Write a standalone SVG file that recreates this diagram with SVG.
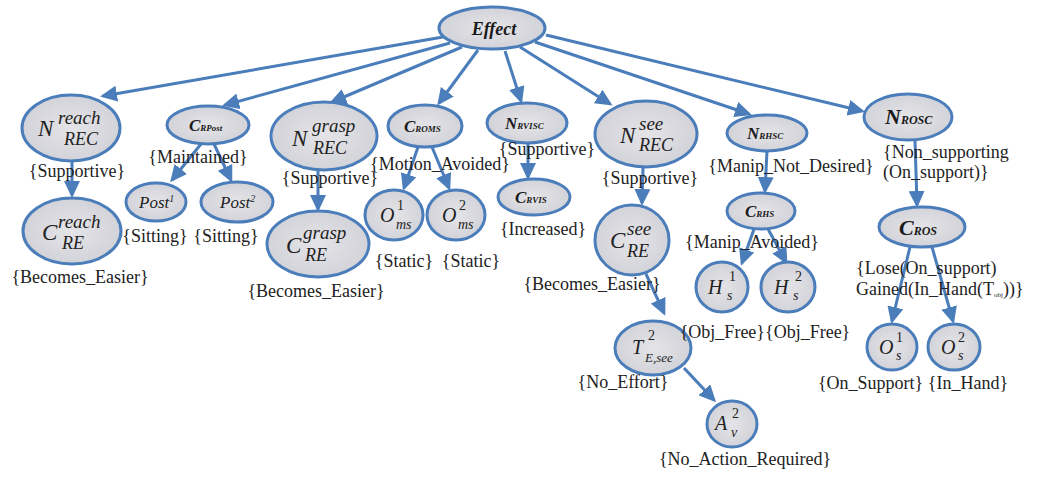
<svg xmlns="http://www.w3.org/2000/svg" width="1037" height="478" viewBox="0 0 1037 478">
<style>
.n{fill:url(#g);stroke:#4a7dba;stroke-width:3}
.e{stroke:#4a7dba;stroke-width:3;fill:none;marker-end:url(#ah)}
.t{font-family:"Liberation Serif",serif;fill:#222}
.l{font-family:"Liberation Serif",serif;font-size:18px;fill:#222}
.m{font-family:"Liberation Serif",serif;font-style:italic;fill:#222}
.b{font-family:"Liberation Serif",serif;font-style:italic;font-weight:bold;fill:#1a1a1a}
</style>
<defs>
<radialGradient id="g" cx="0.5" cy="0.5" r="0.6">
<stop offset="0" stop-color="#e4e4e8"/>
<stop offset="1" stop-color="#cfd0d6"/>
</radialGradient>
<marker id="ah" markerUnits="userSpaceOnUse" markerWidth="18" markerHeight="16" refX="14" refY="8" orient="auto">
<path d="M0,0 L17,8 L0,16 Z" fill="#4a7dba"/>
</marker>
</defs>
<rect width="1037" height="478" fill="#ffffff"/>
<g id="connectors">
<line class="e" x1="443" y1="37" x2="103" y2="96"/>
<line class="e" x1="450" y1="43" x2="225" y2="105"/>
<line class="e" x1="462" y1="47" x2="332" y2="102"/>
<line class="e" x1="478" y1="50" x2="439" y2="103"/>
<line class="e" x1="505" y1="51" x2="521" y2="101"/>
<line class="e" x1="520" y1="47" x2="610" y2="104"/>
<line class="e" x1="535" y1="42" x2="749" y2="114"/>
<line class="e" x1="546" y1="35" x2="862" y2="111"/>
<line class="e" x1="72" y1="161" x2="72" y2="195"/>
<line class="e" x1="201" y1="144" x2="172" y2="180"/>
<line class="e" x1="214" y1="144" x2="231" y2="180"/>
<line class="e" x1="318" y1="170" x2="318" y2="209"/>
<line class="e" x1="418" y1="147" x2="404" y2="188"/>
<line class="e" x1="432" y1="147" x2="449" y2="188"/>
<line class="e" x1="528" y1="143" x2="528" y2="177"/>
<line class="e" x1="643" y1="168" x2="642" y2="203"/>
<line class="e" x1="646" y1="274" x2="664" y2="313"/>
<line class="e" x1="684" y1="368" x2="714" y2="400"/>
<line class="e" x1="767" y1="151" x2="765" y2="191"/>
<line class="e" x1="754" y1="229" x2="742" y2="263"/>
<line class="e" x1="768" y1="229" x2="786" y2="262"/>
<line class="e" x1="915" y1="140" x2="917" y2="205"/>
<line class="e" x1="910" y1="247" x2="892" y2="321"/>
<line class="e" x1="932" y1="247" x2="953" y2="321"/>
</g>
<g id="effect"><ellipse class="n" cx="492" cy="28" rx="53" ry="21"/><text class="b" x="494" y="35" font-size="18" text-anchor="middle">Effect</text></g>
<g id="n-reach"><ellipse class="n" cx="71" cy="128" rx="49" ry="33"/>
<text class="m" x="38" y="136" font-size="23">N</text><text class="m" x="58" y="124" font-size="19">reach</text><text class="m" x="64" y="145" font-size="18">REC</text></g>
<g id="c-reach"><ellipse class="n" cx="72" cy="231" rx="49" ry="33"/>
<text class="m" x="42" y="240" font-size="23">C</text><text class="m" x="58" y="228" font-size="19">reach</text><text class="m" x="62" y="249" font-size="18">RE</text></g>
<g id="c-rpost"><ellipse class="n" cx="208" cy="125" rx="41" ry="19"/>
<text class="b" x="189" y="131" font-size="17">C<tspan font-size="9">RPost</tspan></text></g>
<g id="post1"><ellipse class="n" cx="156" cy="202" rx="30" ry="19"/>
<text class="m" x="139" y="208" font-size="17">Post<tspan font-size="10" dy="-6">1</tspan></text></g>
<g id="post2"><ellipse class="n" cx="237" cy="202" rx="36" ry="20"/>
<text class="m" x="220" y="208" font-size="17">Post<tspan font-size="10" dy="-6">2</tspan></text></g>
<g id="n-grasp"><ellipse class="n" cx="324" cy="136" rx="53" ry="34"/>
<text class="m" x="292" y="146" font-size="23">N</text><text class="m" x="312" y="132" font-size="19">grasp</text><text class="m" x="313" y="154" font-size="18">REC</text></g>
<g id="c-grasp"><ellipse class="n" cx="318" cy="244" rx="51" ry="33"/>
<text class="m" x="286" y="253" font-size="23">C</text><text class="m" x="303" y="239" font-size="19">grasp</text><text class="m" x="305" y="261" font-size="18">RE</text></g>
<g id="c-roms"><ellipse class="n" cx="425" cy="126" rx="37" ry="21"/>
<text class="b" x="404" y="132" font-size="17">C<tspan font-size="9">ROMS</tspan></text></g>
<g id="o-ms1"><ellipse class="n" cx="394" cy="215" rx="29" ry="25"/>
<text class="m" x="380" y="222" font-size="20">O</text><text class="t" x="397" y="210" font-size="14">1</text><text class="m" x="396" y="229" font-size="14">ms</text></g>
<g id="o-ms2"><ellipse class="n" cx="456" cy="215" rx="29" ry="25"/>
<text class="m" x="442" y="222" font-size="20">O</text><text class="t" x="459" y="210" font-size="14">2</text><text class="m" x="458" y="229" font-size="14">ms</text></g>
<g id="n-rvisc"><ellipse class="n" cx="527" cy="123" rx="40" ry="20"/>
<text class="b" x="505" y="129" font-size="17">N<tspan font-size="9">RVISC</tspan></text></g>
<g id="c-rvis"><ellipse class="n" cx="534" cy="197" rx="36" ry="18"/>
<text class="b" x="515" y="203" font-size="17">C<tspan font-size="9">RVIS</tspan></text></g>
<g id="n-see"><ellipse class="n" cx="646" cy="134" rx="51" ry="33"/>
<text class="m" x="620" y="143" font-size="23">N</text><text class="m" x="639" y="130" font-size="19">see</text><text class="m" x="639" y="151" font-size="18">REC</text></g>
<g id="c-see"><ellipse class="n" cx="632" cy="240" rx="37" ry="35"/>
<text class="m" x="610" y="248" font-size="23">C</text><text class="m" x="627" y="235" font-size="19">see</text><text class="m" x="627" y="257" font-size="18">RE</text></g>
<g id="t-see"><ellipse class="n" cx="653" cy="348" rx="38" ry="27"/>
<text class="m" x="632" y="354" font-size="20">T</text><text class="t" x="648" y="340" font-size="14">2</text><text class="m" x="645" y="362" font-size="13">E,see</text></g>
<g id="a-v"><ellipse class="n" cx="732" cy="424" rx="25" ry="23"/>
<text class="m" x="715" y="430" font-size="20">A</text><text class="t" x="732" y="418" font-size="14">2</text><text class="m" x="731" y="437" font-size="14">v</text></g>
<g id="n-rhsc"><ellipse class="n" cx="767" cy="133" rx="40" ry="18"/>
<text class="b" x="747" y="139" font-size="17">N<tspan font-size="9">RHSC</tspan></text></g>
<g id="c-rhs"><ellipse class="n" cx="761" cy="211" rx="34" ry="18"/>
<text class="b" x="745" y="217" font-size="17">C<tspan font-size="9">RHS</tspan></text></g>
<g id="h-s1"><ellipse class="n" cx="722" cy="287" rx="26" ry="25"/>
<text class="m" x="708" y="294" font-size="20">H</text><text class="t" x="729" y="281" font-size="14">1</text><text class="m" x="727" y="300" font-size="14">s</text></g>
<g id="h-s2"><ellipse class="n" cx="788" cy="287" rx="27" ry="25"/>
<text class="m" x="774" y="294" font-size="20">H</text><text class="t" x="795" y="281" font-size="14">2</text><text class="m" x="793" y="300" font-size="14">s</text></g>
<g id="n-rosc"><ellipse class="n" cx="908" cy="117" rx="44" ry="23"/>
<text class="b" x="885" y="124" font-size="22">N<tspan font-size="12">ROSC</tspan></text></g>
<g id="c-ros"><ellipse class="n" cx="922" cy="227" rx="43" ry="20"/>
<text class="b" x="899" y="235" font-size="22">C<tspan font-size="12">ROS</tspan></text></g>
<g id="o-s1"><ellipse class="n" cx="892" cy="347" rx="25" ry="23"/>
<text class="m" x="879" y="354" font-size="20">O</text><text class="t" x="896" y="342" font-size="14">1</text><text class="m" x="896" y="360" font-size="14">s</text></g>
<g id="o-s2"><ellipse class="n" cx="954" cy="347" rx="26" ry="23"/>
<text class="m" x="941" y="354" font-size="20">O</text><text class="t" x="958" y="342" font-size="14">2</text><text class="m" x="958" y="360" font-size="14">s</text></g>
<g id="labels">
<text class="l" x="77" y="177" text-anchor="middle">{Supportive}</text>
<text class="l" x="80" y="283" text-anchor="middle">{Becomes_Easier}</text>
<text class="l" x="198" y="163" text-anchor="middle">{Maintained}</text>
<text class="l" x="155" y="242" text-anchor="middle">{Sitting}</text>
<text class="l" x="226" y="242" text-anchor="middle">{Sitting}</text>
<text class="l" x="330" y="184" text-anchor="middle">{Supportive}</text>
<text class="l" x="316" y="297" text-anchor="middle">{Becomes_Easier}</text>
<text class="l" x="440" y="170" text-anchor="middle" font-size="15">{Motion_Avoided}</text>
<text class="l" x="404" y="267" text-anchor="middle">{Static}</text>
<text class="l" x="471" y="267" text-anchor="middle">{Static}</text>
<text class="l" x="547" y="155" text-anchor="middle">{Supportive}</text>
<text class="l" x="543" y="235" text-anchor="middle">{Increased}</text>
<text class="l" x="650" y="184" text-anchor="middle">{Supportive}</text>
<text class="l" x="592" y="290" text-anchor="middle">{Becomes_Easier}</text>
<text class="l" x="623" y="388" text-anchor="middle">{No_Effort}</text>
<text class="l" x="745" y="465" text-anchor="middle">{No_Action_Required}</text>
<text class="l" x="791" y="172" text-anchor="middle">{Manip_Not_Desired}</text>
<text class="l" x="752" y="248" text-anchor="middle">{Manip_Avoided}</text>
<text class="l" x="765" y="338" text-anchor="middle">{Obj_Free}{Obj_Free}</text>
<text class="l" x="883" y="158">{Non_supporting</text>
<text class="l" x="883" y="178">(On_support)}</text>
<text class="l" x="856" y="274">{Lose(On_support)</text>
<text class="l" x="856" y="295">Gained(In_Hand(T<tspan font-size="7" dy="2">obj</tspan><tspan dy="-2">))}</tspan></text>
<text class="l" x="913" y="389" text-anchor="middle">{On_Support} {In_Hand}</text>
</g>
</svg>
